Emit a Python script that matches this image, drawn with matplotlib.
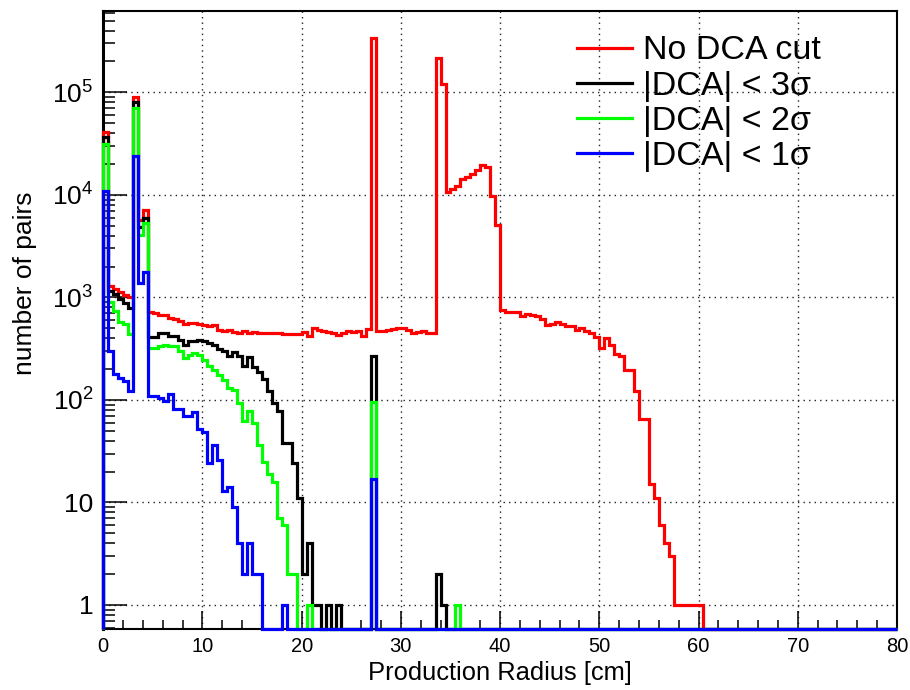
"""
Pair production radius with and without DCA cuts (ROOT-style log histogram).
"""
import numpy as np
import matplotlib
matplotlib.use("Agg")
import matplotlib.pyplot as plt
from matplotlib.ticker import FixedLocator, FixedFormatter, LogLocator, MultipleLocator, NullFormatter

plt.rcParams["font.family"] = ["Liberation Sans", "DejaVu Sans"]
plt.rcParams["mathtext.fontset"] = "custom"
plt.rcParams["mathtext.rm"] = "Liberation Sans"
plt.rcParams["mathtext.it"] = "Liberation Sans:italic"

# --- data: 160 bins of 0.5 cm from 0 to 80 cm ---
radius_edges = np.linspace(0.0, 80.0, 161)

no_cut = [
    41000, 1280, 1200, 1130, 1050, 1000, 91000, 5700, 7100, 720,
    700, 680, 670, 630, 620, 590, 545, 560, 560, 555,
    540, 523, 540, 485, 470, 485, 455, 445, 465, 450,
    460, 450, 445, 445, 445, 445, 435, 435, 435, 435,
    455, 418, 505, 485, 465, 460, 450, 433, 450, 465,
    460, 465, 418, 490, 335000, 465, 465, 485, 490, 505,
    505, 480, 450, 455, 465, 450, 450, 214000, 120000, 10700,
    11500, 12200, 14400, 15000, 16000, 17400, 19400, 18700, 9800, 5080,
    760, 725, 725, 720, 660, 690, 680, 655, 610, 540,
    550, 575, 545, 520, 520, 480, 505, 475, 445, 415,
    320, 400, 345, 282, 267, 194, 194, 123, 65, 65,
    15, 11, 6, 4, 3, 1, 1, 1, 1, 1,
    1, 0, 0, 0, 0, 0, 0, 0, 0, 0,
    0, 0, 0, 0, 0, 0, 0, 0, 0, 0,
    0, 0, 0, 0, 0, 0, 0, 0, 0, 0,
    0, 0, 0, 0, 0, 0, 0, 0, 0, 0,
]

dca_3sigma = [
    37000, 1160, 1070, 960, 880, 790, 80000, 4900, 6000, 410,
    410, 450, 450, 420, 420, 387, 345, 372, 378, 385,
    375, 360, 340, 315, 300, 270, 290, 270, 215, 260,
    208, 187, 160, 122, 93, 78, 38, 38, 24, 11,
    2, 4, 1, 1, 0, 1, 0, 1, 0, 0,
    0, 0, 0, 0, 270, 0, 0, 0, 0, 0,
    0, 0, 0, 0, 0, 0, 0, 2, 1, 0,
    0, 0, 0, 0, 0, 0, 0, 0, 0, 0,
    0, 0, 0, 0, 0, 0, 0, 0, 0, 0,
    0, 0, 0, 0, 0, 0, 0, 0, 0, 0,
    0, 0, 0, 0, 0, 0, 0, 0, 0, 0,
    0, 0, 0, 0, 0, 0, 0, 0, 0, 0,
    0, 0, 0, 0, 0, 0, 0, 0, 0, 0,
    0, 0, 0, 0, 0, 0, 0, 0, 0, 0,
    0, 0, 0, 0, 0, 0, 0, 0, 0, 0,
    0, 0, 0, 0, 0, 0, 0, 0, 0, 0,
]

dca_2sigma = [
    31500, 910, 730, 580, 550, 437, 70000, 4100, 5300, 322,
    322, 334, 347, 334, 334, 300, 256, 277, 287, 277,
    247, 215, 197, 175, 158, 131, 126, 93, 62, 78,
    59, 36, 25, 19, 16, 7, 6, 2, 2, 0,
    0, 1, 0, 0, 0, 0, 0, 0, 0, 0,
    0, 0, 0, 0, 95, 0, 0, 0, 0, 0,
    0, 0, 0, 0, 0, 0, 0, 0, 0, 0,
    0, 1, 0, 0, 0, 0, 0, 0, 0, 0,
    0, 0, 0, 0, 0, 0, 0, 0, 0, 0,
    0, 0, 0, 0, 0, 0, 0, 0, 0, 0,
    0, 0, 0, 0, 0, 0, 0, 0, 0, 0,
    0, 0, 0, 0, 0, 0, 0, 0, 0, 0,
    0, 0, 0, 0, 0, 0, 0, 0, 0, 0,
    0, 0, 0, 0, 0, 0, 0, 0, 0, 0,
    0, 0, 0, 0, 0, 0, 0, 0, 0, 0,
    0, 0, 0, 0, 0, 0, 0, 0, 0, 0,
]

dca_1sigma = [
    11000, 300, 178, 164, 152, 122, 24000, 1380, 1780, 109,
    109, 104, 98, 113, 81, 81, 70, 70, 77, 52,
    49, 24, 36, 26, 13, 14, 9, 4, 2, 4,
    2, 2, 0, 0, 0, 0, 1, 0, 0, 0,
    0, 0, 0, 0, 0, 0, 0, 0, 0, 0,
    0, 0, 0, 0, 17, 0, 0, 0, 0, 0,
    0, 0, 0, 0, 0, 0, 0, 0, 0, 0,
    0, 0, 0, 0, 0, 0, 0, 0, 0, 0,
    0, 0, 0, 0, 0, 0, 0, 0, 0, 0,
    0, 0, 0, 0, 0, 0, 0, 0, 0, 0,
    0, 0, 0, 0, 0, 0, 0, 0, 0, 0,
    0, 0, 0, 0, 0, 0, 0, 0, 0, 0,
    0, 0, 0, 0, 0, 0, 0, 0, 0, 0,
    0, 0, 0, 0, 0, 0, 0, 0, 0, 0,
    0, 0, 0, 0, 0, 0, 0, 0, 0, 0,
    0, 0, 0, 0, 0, 0, 0, 0, 0, 0,
]

series_labels = ["No DCA cut", "|DCA| < 3σ", "|DCA| < 2σ", "|DCA| < 1σ"]
series_colors = ["#ff0000", "#000000", "#00ff00", "#0000ff"]

x_ticks = [0, 10, 20, 30, 40, 50, 60, 70, 80]
y_ticks = [1, 10, 100, 1000, 10000, 100000]
y_tick_labels = ["1", "10", "$10^{2}$", "$10^{3}$", "$10^{4}$", "$10^{5}$"]

Y_MIN, Y_MAX = 0.583, 6.25e5


def main() -> None:
    fig = plt.figure(figsize=(9.1, 6.9), dpi=100)
    ax = fig.add_axes([0.1134, 0.0884, 0.8723, 0.8961])

    # empty bins are drawn on the frame bottom, like ROOT does on log scale
    for vals, color, label in zip([no_cut, dca_3sigma, dca_2sigma, dca_1sigma],
                                  series_colors, series_labels):
        v = np.asarray(vals, dtype=float)
        shown = np.where(v > 0, v, Y_MIN)
        ax.stairs(shown, radius_edges, baseline=Y_MIN, color=color,
                  linewidth=2.3, label=label, clip_on=False, zorder=3)

    ax.set_yscale("log")
    ax.set_xlim(0, 80)
    ax.set_ylim(Y_MIN, Y_MAX)

    # ticks
    ax.xaxis.set_major_locator(FixedLocator(x_ticks))
    ax.xaxis.set_minor_locator(MultipleLocator(2))
    ax.yaxis.set_major_locator(FixedLocator(y_ticks))
    ax.yaxis.set_major_formatter(FixedFormatter(y_tick_labels))
    ax.yaxis.set_minor_locator(LogLocator(base=10, subs=np.arange(2, 10), numticks=20))
    ax.yaxis.set_minor_formatter(NullFormatter())
    ax.tick_params(axis="x", which="major", direction="in", length=13.3, width=1.1,
                   labelsize=14.5, pad=6, top=False)
    ax.tick_params(axis="x", which="minor", direction="in", length=6.7, width=1.1, top=False)
    ax.tick_params(axis="y", which="major", direction="in", length=17.3, width=1.1,
                   labelsize=19, pad=7, right=False)
    ax.tick_params(axis="y", which="minor", direction="in", length=8.6, width=1.1, right=False)

    ax.grid(True, which="major", color="#222222", linestyle=(0, (1, 3)), linewidth=1.0)
    ax.set_axisbelow(True)

    for side in ["top", "right", "bottom"]:
        ax.spines[side].set_linewidth(1.5)
    ax.spines["left"].set_linewidth(2.2)

    ax.set_xlabel("Production Radius [cm]", fontsize=18.4)
    ax.xaxis.set_label_coords(0.5, -0.052)
    ax.set_ylabel("number of pairs", fontsize=19)
    ax.yaxis.set_label_coords(-0.083, 0.56)

    ax.legend(loc="upper left", bbox_to_anchor=(0.597, 0.960), frameon=False,
              fontsize=24.5, handlelength=1.6, handletextpad=0.35, labelspacing=0.12,
              borderpad=0, borderaxespad=0)

    fig.savefig("out.png", dpi=100)
    plt.close(fig)


if __name__ == "__main__":
    main()
